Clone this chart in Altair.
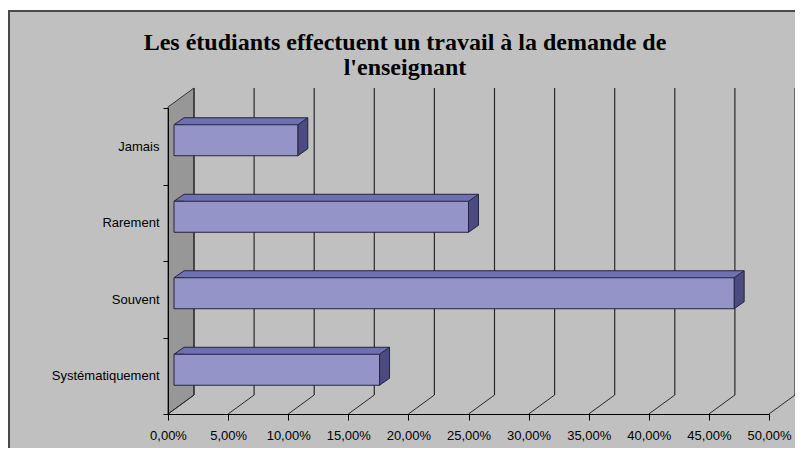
import altair as alt
import pandas as pd

# ---- data ----
categories = ["Jamais", "Rarement", "Souvent", "Systématiquement"]
values = [10.3, 24.5, 46.6, 17.1]
tick_values = [0, 5, 10, 15, 20, 25, 30, 35, 40, 45, 50]
title_lines = ["Les étudiants effectuent un travail à la demande de", "l'enseignant"]

bars = pd.DataFrame({"cat": categories, "val": values})
ticks = pd.DataFrame({"t": tick_values})
one = pd.DataFrame({"k": [0]})

# ---- style ----
BG = "#C0C0C0"
FRONT = "#9494C8"
TOP = "#6F6FB4"
SIDE = "#4B4B82"
EDGE = "#25253A"
WALL = "#979797"
GRID = "#2A2A2A"
W, H = 601, 306
DX, DY = 26, 19       # wall depth
BX, BY = 6, -6        # bar front offset
BD_X, BD_Y = 10, 7    # bar depth
BH = 31               # bar thickness

LABEL_FONT = "Liberation Sans, Arial, sans-serif"

x_scale = alt.Scale(domain=[0, 50], nice=False, zero=True)
y_scale = alt.Scale(domain=categories, paddingInner=0, paddingOuter=0)
x_axis = alt.Axis(values=tick_values, grid=False, title=None, tickSize=6, zindex=2,
                  labelExpr="replace(format(datum.value, '.2f'), '.', ',') + '%'",
                  labelOverlap=False, labelFlush=False,
                  labelPadding=9, domainColor="#000", tickColor="#000",
                  labelFont=LABEL_FONT, labelFontSize=13, labelColor="#000")
y_axis = alt.Axis(title=None, tickBand="extent", tickSize=5, labelPadding=4, zindex=2,
                  labelOverlap=False, domainColor="#000", tickColor="#000",
                  labelFont=LABEL_FONT, labelFontSize=13, labelColor="#000")


def X(field, **kw):
    return alt.X(field, type="quantitative", scale=x_scale, axis=x_axis, **kw)


def Y():
    return alt.Y("cat:N", scale=y_scale, sort=categories, axis=y_axis)


frame = alt.Chart(one).mark_rect(fill=BG, stroke="#4A4A4A", strokeWidth=2).encode(
    x=alt.value(-159), x2=alt.value(660), y=alt.value(-97), y2=alt.value(380))

title1 = alt.Chart(one).mark_text(
    text=title_lines[0], font="Liberation Serif", fontSize=24, fontWeight="bold",
    color="#000", align="center", baseline="alphabetic").encode(
    x=alt.value(237), y=alt.value(-58))
title2 = alt.Chart(one).mark_text(
    text=title_lines[1], font="Liberation Serif", fontSize=24, fontWeight="bold",
    color="#000", align="center", baseline="alphabetic").encode(
    x=alt.value(237), y=alt.value(-33))

side_wall = alt.Chart(one).mark_point(
    shape=f"M0,{H}L0,-1L{DX},{-DY - 1}L{DX},{H - DY}Z", size=4, filled=True,
    fill=WALL, stroke="#333333", strokeWidth=1, opacity=1).encode(
    x=alt.X(datum=0, type="quantitative", scale=x_scale, axis=x_axis),
    y=alt.value(0))

back_grid = alt.Chart(ticks).mark_rule(color=GRID, strokeWidth=1.2, xOffset=DX).encode(
    x=X("t"), y=alt.value(-DY - 1), y2=alt.value(H - DY))

floor_lines = alt.Chart(ticks).mark_rule(color=GRID, strokeWidth=1, x2Offset=DX).encode(
    x=X("t"), x2=alt.X2("t"), y=alt.value(H), y2=alt.value(H - DY))

base = alt.Chart(bars)

top_face = base.mark_bar(fill=TOP, size=BH, xOffset=BX + BD_X, x2Offset=BX + BD_X,
                         yOffset=BY - BD_Y).encode(x=X("val"), y=Y())

top_edge = base.mark_rule(color=EDGE, strokeWidth=1, xOffset=BX + BD_X,
                          x2Offset=BX + BD_X, yOffset=BY - BD_Y - BH / 2).encode(
    x=X("val"), x2=alt.X2(datum=0), y=Y())

h2 = BH / 2
side_face = base.mark_point(
    shape=f"M0,{-h2}L{BD_X},{-h2 - BD_Y}L{BD_X},{h2 - BD_Y}L0,{h2}Z", size=4,
    filled=True, fill=SIDE, stroke=EDGE, strokeWidth=1, opacity=1,
    xOffset=BX, yOffset=BY).encode(x=X("val"), y=Y())

left_tri = base.mark_point(
    shape=f"M{BD_X},{-h2}L0,{-h2}L{BD_X},{-h2 - BD_Y}", size=4, filled=True,
    fill=TOP, stroke=EDGE, strokeWidth=1, opacity=1, xOffset=BX, yOffset=BY).encode(
    x=alt.X(datum=0, type="quantitative", scale=x_scale, axis=x_axis), y=Y())

front_face = base.mark_bar(fill=FRONT, stroke=EDGE, strokeWidth=1, size=BH,
                           xOffset=BX, x2Offset=BX, yOffset=BY).encode(
    x=X("val"), y=Y())

chart = alt.layer(
    frame, title1, title2, side_wall, back_grid, floor_lines, top_face, top_edge,
    side_face, left_tri, front_face
).properties(
    width=W, height=H,
    padding={"left": 160, "top": 100, "right": 26, "bottom": 34},
    autosize=alt.AutoSizeParams(type="none"),
    background="white",
).configure_view(stroke=None)

chart.save("out.html", embed_options={"renderer": "svg", "actions": False})
